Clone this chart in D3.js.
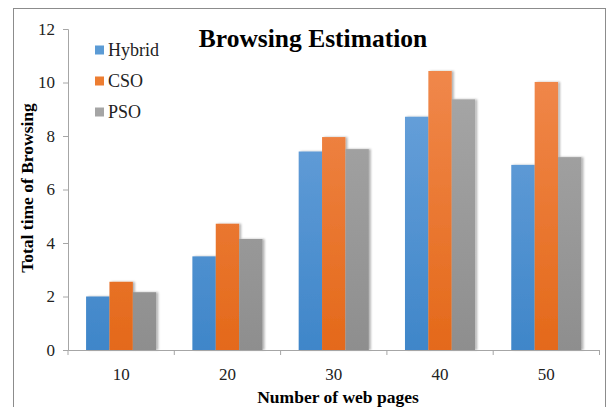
<!DOCTYPE html>
<html>
<head>
<meta charset="utf-8">
<script src="https://cdn.jsdelivr.net/npm/d3@7"></script>
<style>
  html, body { margin: 0; padding: 0; background: #fff; }
  svg { display: block; }
</style>
</head>
<body>
<svg id="chart" width="611" height="407"></svg>
<script>
// Browsing time per number of web pages, three optimisers
const categories = ["10", "20", "30", "40", "50"];
const seriesNames = ["Hybrid", "CSO", "PSO"];
const hybrid = [2.0, 3.5, 7.42, 8.72, 6.92];
const cso = [2.55, 4.72, 7.96, 10.43, 10.02];
const pso = [2.16, 4.15, 7.51, 9.37, 7.21];
const yTicks = [0, 2, 4, 6, 8, 10, 12];

const values = [hybrid, cso, pso];
const colors = [
  { top: "#72a7de", bottom: "#3f86c9", key: "#5b9bd5" },
  { top: "#f28c52", bottom: "#e4691a", key: "#ed7d31" },
  { top: "#ababab", bottom: "#8e8e8e", key: "#a5a5a5" }
];

const svg = d3.select("#chart");
const serif = "'Liberation Serif', 'Times New Roman', serif";

// outer frame
svg.append("rect")
  .attr("x", 13.5).attr("y", 8.5)
  .attr("width", 592).attr("height", 420)
  .attr("fill", "none").attr("stroke", "#8c8c8c").attr("stroke-width", 1);

const plot = { left: 68, right: 599.5, top: 29, bottom: 350 };

const x0 = d3.scaleBand()
  .domain(categories)
  .range([plot.left, plot.right])
  .paddingInner(0.34).paddingOuter(0.17);

const x1 = d3.scaleBand()
  .domain(seriesNames)
  .range([0, x0.bandwidth()]);

const y = d3.scaleLinear().domain([0, 12]).range([plot.bottom, plot.top]);

// gradients and shadow
const defs = svg.append("defs");
colors.forEach((c, i) => {
  const g = defs.append("linearGradient")
    .attr("id", "grad" + i)
    .attr("gradientUnits", "userSpaceOnUse")
    .attr("x1", 0).attr("y1", plot.top).attr("x2", 0).attr("y2", plot.bottom);
  g.append("stop").attr("offset", "0%").attr("stop-color", c.top);
  g.append("stop").attr("offset", "100%").attr("stop-color", c.bottom);
});
const shadow = defs.append("filter").attr("id", "shadow")
  .attr("x", "-20%").attr("y", "-5%").attr("width", "150%").attr("height", "110%");
shadow.append("feDropShadow")
  .attr("dx", 2).attr("dy", 0).attr("stdDeviation", 1.2)
  .attr("flood-color", "#000").attr("flood-opacity", 0.3);

// bars
const groups = svg.append("g").selectAll("g")
  .data(categories)
  .join("g")
  .attr("transform", d => `translate(${x0(d)},0)`);

groups.selectAll("rect")
  .data((d, ci) => seriesNames.map((s, si) => ({ s, si, v: values[si][ci] })))
  .join("rect")
  .attr("x", d => x1(d.s))
  .attr("width", x1.bandwidth())
  .attr("y", d => y(d.v))
  .attr("height", d => y(0) - y(d.v))
  .attr("fill", d => `url(#grad${d.si})`)
  .attr("filter", "url(#shadow)");

// y axis
const yAxis = svg.append("g")
  .attr("transform", `translate(${plot.left},0)`)
  .call(d3.axisLeft(y).tickValues(yTicks).tickSize(5).tickPadding(8).tickFormat(d3.format("d")));
yAxis.select(".domain").attr("stroke", "#a6a6a6");
yAxis.selectAll(".tick line").attr("stroke", "#a6a6a6");
yAxis.selectAll("text")
  .attr("font-family", serif).attr("font-size", 17).attr("fill", "#222");

// x axis with ticks at the category boundaries
const xAxis = svg.append("g")
  .attr("transform", `translate(0,${plot.bottom})`)
  .call(d3.axisBottom(x0).tickSize(0).tickPadding(18));
xAxis.select(".domain").attr("stroke", "#a6a6a6");
xAxis.selectAll("text")
  .attr("font-family", serif).attr("font-size", 17).attr("fill", "#222");
const step = x0.step();
const bounds = d3.range(categories.length + 1).map(i => plot.left + i * step);
svg.append("g").selectAll("line")
  .data(bounds)
  .join("line")
  .attr("x1", d => d).attr("x2", d => d)
  .attr("y1", plot.bottom).attr("y2", plot.bottom + 5)
  .attr("stroke", "#a6a6a6");

// titles
svg.append("text")
  .attr("x", 313).attr("y", 47)
  .attr("text-anchor", "middle")
  .attr("font-family", serif).attr("font-weight", "bold").attr("font-size", 25.5)
  .attr("fill", "#000")
  .text("Browsing Estimation");

svg.append("text")
  .attr("x", 338).attr("y", 403)
  .attr("text-anchor", "middle")
  .attr("font-family", serif).attr("font-weight", "bold").attr("font-size", 17.5)
  .attr("fill", "#000")
  .text("Number of web pages");

svg.append("text")
  .attr("transform", "translate(33,188) rotate(-90)")
  .attr("text-anchor", "middle")
  .attr("font-family", serif).attr("font-weight", "bold").attr("font-size", 17.5)
  .attr("fill", "#000")
  .text("Total time of Browsing");

// legend
const legend = svg.append("g").selectAll("g")
  .data(seriesNames)
  .join("g")
  .attr("transform", (d, i) => `translate(95,${50 + i * 31})`);
legend.append("rect")
  .attr("x", 0).attr("y", -4.5)
  .attr("width", 9).attr("height", 9)
  .attr("fill", (d, i) => colors[i].key);
legend.append("text")
  .attr("x", 13).attr("y", 6)
  .attr("font-family", serif).attr("font-size", 18).attr("fill", "#222")
  .text(d => d);
</script>
</body>
</html>
